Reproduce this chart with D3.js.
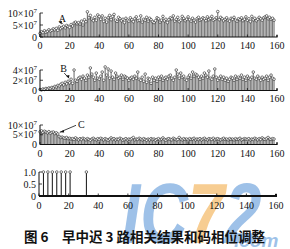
<!DOCTYPE html>
<html><head><meta charset="utf-8">
<script src="https://cdn.jsdelivr.net/npm/d3@7"></script>
<style>body{margin:0;background:#fff}svg{display:block}</style></head>
<body>
<script>
// ---------- data ----------
const xTicks = [0,20,40,60,80,100,120,140,160];
// early / prompt / late correlation results (units of 10^7), index = code phase step
const seriesA = [1.5,2.2,1.8,2.6,2.0,2.4,3.0,2.5,2.8,3.4,
 3.0,3.6,2.8,4.2,3.5,4.0,4.5,3.8,4.8,4.4,
 4.0,5.2,4.6,5.8,6.2,5.5,6.0,5.4,6.6,5.0,
 7.2,6.4,10.5,8.0,9.0,7.5,6.8,8.2,7.0,9.2,
 8.5,7.4,8.8,6.5,7.8,6.2,8.0,9.0,7.2,8.6,
 9.4,7.0,6.5,8.2,7.6,6.8,7.4,6.0,7.8,7.0,
 6.6,8.0,7.2,6.4,7.6,8.4,6.8,7.0,8.8,6.2,
 7.4,7.0,8.2,6.6,7.8,7.2,6.4,6.0,6.8,8.0,
 7.6,6.2,7.0,8.6,6.8,7.4,6.0,7.2,8.0,7.6,
 8.8,6.6,7.4,8.2,6.4,7.0,8.6,7.8,6.8,7.4,
 8.4,7.2,6.6,7.8,7.0,6.2,7.6,8.2,7.0,7.4,
 8.0,7.6,6.8,8.4,7.2,7.8,8.6,7.0,7.4,8.0,
 10.6,7.2,8.2,7.6,6.8,7.4,8.0,7.0,6.6,7.8,
 7.4,8.2,7.0,6.6,7.6,7.2,8.0,6.8,7.4,8.4,
 7.0,7.6,6.4,8.6,7.2,7.8,6.8,7.4,8.2,7.6,
 7.0,8.0,8.4,8.8,7.6,8.2,7.4,7.8,7.0];
const seriesB = [0.2,0.1,0.3,0.2,0.4,0.3,0.5,0.4,0.6,0.5,
 0.8,0.7,1.0,0.9,1.2,1.4,1.1,1.6,1.3,1.8,
 1.5,2.2,1.4,4.0,2.0,1.8,2.4,2.6,2.2,2.8,
 2.4,2.0,3.0,2.6,4.4,3.2,2.6,2.0,3.4,2.4,
 2.2,2.8,3.6,2.0,4.6,3.0,4.2,2.4,3.8,2.6,
 2.2,3.4,2.8,2.4,2.6,3.0,2.2,2.8,2.6,2.4,
 2.0,2.4,2.6,2.2,2.8,2.4,3.6,2.2,2.0,2.6,
 1.8,3.2,1.6,2.4,2.2,1.4,2.6,2.0,2.4,1.8,
 2.6,2.2,2.8,2.0,2.4,2.6,2.2,2.8,3.0,2.4,
 2.0,2.6,4.0,3.2,2.4,3.4,2.6,2.8,2.2,2.0,
 2.6,3.0,2.4,3.6,2.8,3.2,3.0,2.6,2.2,2.8,
 2.4,3.4,3.0,2.6,3.8,2.4,2.2,2.8,4.2,2.6,
 2.0,2.4,2.8,2.2,2.6,2.0,2.4,1.8,2.2,2.6,
 2.4,2.0,2.8,2.2,2.6,2.4,3.0,2.2,2.6,2.0,
 2.8,2.4,2.2,2.6,3.6,2.4,2.2,2.8,2.4,2.0,
 2.6,2.2,2.4,2.8,2.0,2.6,3.0,2.4,2.2];
const seriesC = [6.5,7.0,6.2,6.8,6.4,6.0,6.6,5.8,6.2,6.4,
 5.6,6.0,5.4,4.0,3.6,3.8,3.4,3.2,3.6,3.0,
 3.2,2.8,3.0,2.6,3.4,2.8,2.4,3.0,2.6,3.2,
 2.8,2.4,3.0,2.6,2.2,2.8,3.2,2.6,2.4,3.0,
 2.6,3.2,2.8,2.4,3.0,2.6,2.2,2.8,3.4,2.6,
 3.0,2.4,2.8,2.6,3.2,2.8,2.2,2.6,3.0,2.4,
 2.8,2.6,3.0,3.6,2.4,2.8,2.6,3.2,2.8,2.4,
 3.0,2.6,2.2,2.8,2.4,3.0,2.6,2.8,2.2,2.6,
 3.0,2.4,2.8,3.4,2.6,2.2,2.8,3.0,2.6,2.4,
 3.2,2.8,2.4,2.6,3.6,2.8,2.4,3.0,2.6,2.8,
 2.4,3.0,2.6,2.8,3.2,2.4,2.8,2.6,3.0,2.4,
 2.8,3.2,2.6,2.4,3.0,2.8,2.6,3.2,2.4,2.8,
 3.0,2.6,2.4,2.8,3.2,2.6,2.8,2.4,3.0,2.6,
 2.8,2.4,3.0,2.6,2.8,3.2,2.4,2.6,3.0,2.8,
 2.6,3.0,2.4,2.8,2.6,3.2,2.8,2.4,3.0,2.6,
 3.4,2.8,2.6,3.0,3.6,2.8,2.6,3.0,2.8];
// code phase adjustment impulses
const adjustX = [3,6,9,12,15,18,21,32];
const adjustY = [1,1,1,1,1,1,1,1];
const yTicksA = [0,5,10];
const yTicksB = [0,2,4];
const yTicksC = [0,5,10];
const yTicksD = [0,0.5,1.0];
const markerLabels = ["A","B","C"];
const captionNum = "图 6";
const captionText = "早中迟 3 路相关结果和码相位调整";

// ---------- drawing ----------
const W = 290, H = 249;
const svg = d3.select("body").append("svg").attr("width", W).attr("height", H);
const serif = "'Liberation Serif','DejaVu Serif',serif";

// watermark (underneath)
const wm = svg.append("g").attr("opacity", 0.55)
  .attr("font-family", "'Liberation Sans',Arial,sans-serif")
  .attr("font-weight", "bold").attr("font-style", "italic");
const wmt = wm.append("text").attr("transform", "translate(122,243) scale(1,1.3)").attr("font-size", 66);
wmt.append("tspan").attr("fill", "#4f8fd6").text("IC");
wmt.append("tspan").attr("fill", "#f2a53a").text("7");
wmt.append("tspan").attr("fill", "#4f8fd6").text("2");
wm.append("text").attr("x", 234).attr("y", 247).attr("font-size", 19)
  .attr("fill", "#4f8fd6").text(".com");

const panels = [
  {data: seriesA.map((v,i)=>({x:i, y:v})), yDom:[0,10], yRange:[37,13], xRange:[40,277], ticks:yTicksA, exp:true, labelY:49},
  {data: seriesB.map((v,i)=>({x:i, y:v})), yDom:[0,4], yRange:[90.5,70], xRange:[40,277], ticks:yTicksB, exp:true, labelY:101.5},
  {data: seriesC.map((v,i)=>({x:i, y:v})), yDom:[0,10], yRange:[144.5,125], xRange:[40,277], ticks:yTicksC, exp:true, labelY:156.5},
  {data: adjustX.map((x,i)=>({x:x, y:adjustY[i]})), yDom:[0,1], yRange:[196,172], xRange:[39,276], ticks:yTicksD, exp:false, labelY:208.5}
];

panels.forEach((p, pi) => {
  const x = d3.scaleLinear().domain([0,160]).range(p.xRange);
  const y = d3.scaleLinear().domain(p.yDom).range(p.yRange);
  const g = svg.append("g");
  // stems
  g.selectAll("line.stem").data(p.data).join("line")
    .attr("x1", d=>x(d.x)).attr("x2", d=>x(d.x))
    .attr("y1", y(0)).attr("y2", d=>y(d.y))
    .attr("stroke", pi===3 ? "#111" : "#7a7a7a").attr("stroke-width", pi===3 ? 1 : 1.15);
  // markers
  g.selectAll("circle").data(p.data).join("circle")
    .attr("cx", d=>x(d.x)).attr("cy", d=>y(d.y)).attr("r", 1.3)
    .attr("fill", "#fff").attr("stroke", "#222").attr("stroke-width", 0.6);
  // x axis
  const x0 = x(0), x1 = x(160), yb = y(0);
  g.append("path").attr("d", `M${x0},${yb}H${x1}V${yb-2}`)
    .attr("fill","none").attr("stroke","#111").attr("stroke-width", pi===3 ? 2 : 1.2);
  g.selectAll("line.xt").data(xTicks).join("line")
    .attr("x1", d=>x(d)).attr("x2", d=>x(d)).attr("y1", yb).attr("y2", yb-2.5)
    .attr("stroke","#111").attr("stroke-width",0.8);
  g.selectAll("text.xl").data(xTicks).join("text")
    .attr("x", d=>x(d)).attr("y", p.labelY).attr("text-anchor","middle")
    .attr("font-family", serif).attr("font-size", 10).attr("fill","#111")
    .text(d=>d);
  // y axis
  const yt = y(p.yDom[1]);
  g.append("line").attr("x1", x0).attr("x2", x0).attr("y1", yb).attr("y2", yt)
    .attr("stroke","#111").attr("stroke-width",1);
  g.selectAll("line.yt").data(p.ticks).join("line")
    .attr("x1", x0).attr("x2", x0+3).attr("y1", d=>y(d)).attr("y2", d=>y(d))
    .attr("stroke","#111").attr("stroke-width",0.8);
  const yl = g.selectAll("text.yl").data(p.ticks).join("text")
    .attr("x", x0-3).attr("y", d=>y(d)+3.5).attr("text-anchor","end")
    .attr("font-family", serif).attr("font-size", 10).attr("fill","#111");
  yl.each(function(d){
    const t = d3.select(this);
    if (d === 0) { t.text("0"); return; }
    if (p.exp) {
      t.append("tspan").text(d + "×10");
      t.append("tspan").attr("dy", -4).attr("font-size", 7).text("7");
    } else {
      t.text(d.toFixed(1));
    }
  });
  // annotations
  if (pi < 3) {
    const ann = [
      {tx:14, ty:6.3, ax:12.5, ay:4.5},
      {tx:15, ty:3.6, ax:17.5, ay:2.0},
      null
    ][pi];
    const lab = markerLabels[pi];
    if (pi < 2) {
      g.append("text").attr("x", x(ann.tx)-2).attr("y", y(ann.ty)).attr("font-family", serif)
        .attr("font-size", 10).attr("fill","#111").text(lab);
      g.append("line").attr("x1", x(ann.tx)+2).attr("y1", y(ann.ty)+1)
        .attr("x2", x(ann.ax)+3).attr("y2", y(ann.ay)-2).attr("stroke","#111").attr("stroke-width",0.8);
      const ex = x(ann.ax)+3, ey = y(ann.ay)-2;
      g.append("path").attr("d", `M${ex},${ey}l-3,-2.5l3.5,-0.8z`).attr("fill","#111");
    } else {
      g.append("text").attr("x", 78).attr("y", y(8.6)).attr("font-family", serif)
        .attr("font-size", 10).attr("fill","#111").text(lab);
      g.append("line").attr("x1", 76).attr("y1", y(8.3)-3).attr("x2", x(12)+2).attr("y2", y(6.3))
        .attr("stroke","#111").attr("stroke-width",0.8);
      g.append("path").attr("d", `M${x(12)+2},${y(6.3)}l4,-2.2l0.4,2.6z`).attr("fill","#111");
    }
  }
});

// caption
const cap = svg.append("g").attr("font-family", "'Noto Sans CJK SC',sans-serif")
  .attr("font-weight", "bold").attr("font-size", 13.5).attr("fill", "#111");
cap.append("text").attr("x", 24).attr("y", 242).text(captionNum);
cap.append("text").attr("x", 62).attr("y", 242).text(captionText);
</script>
</body></html>
